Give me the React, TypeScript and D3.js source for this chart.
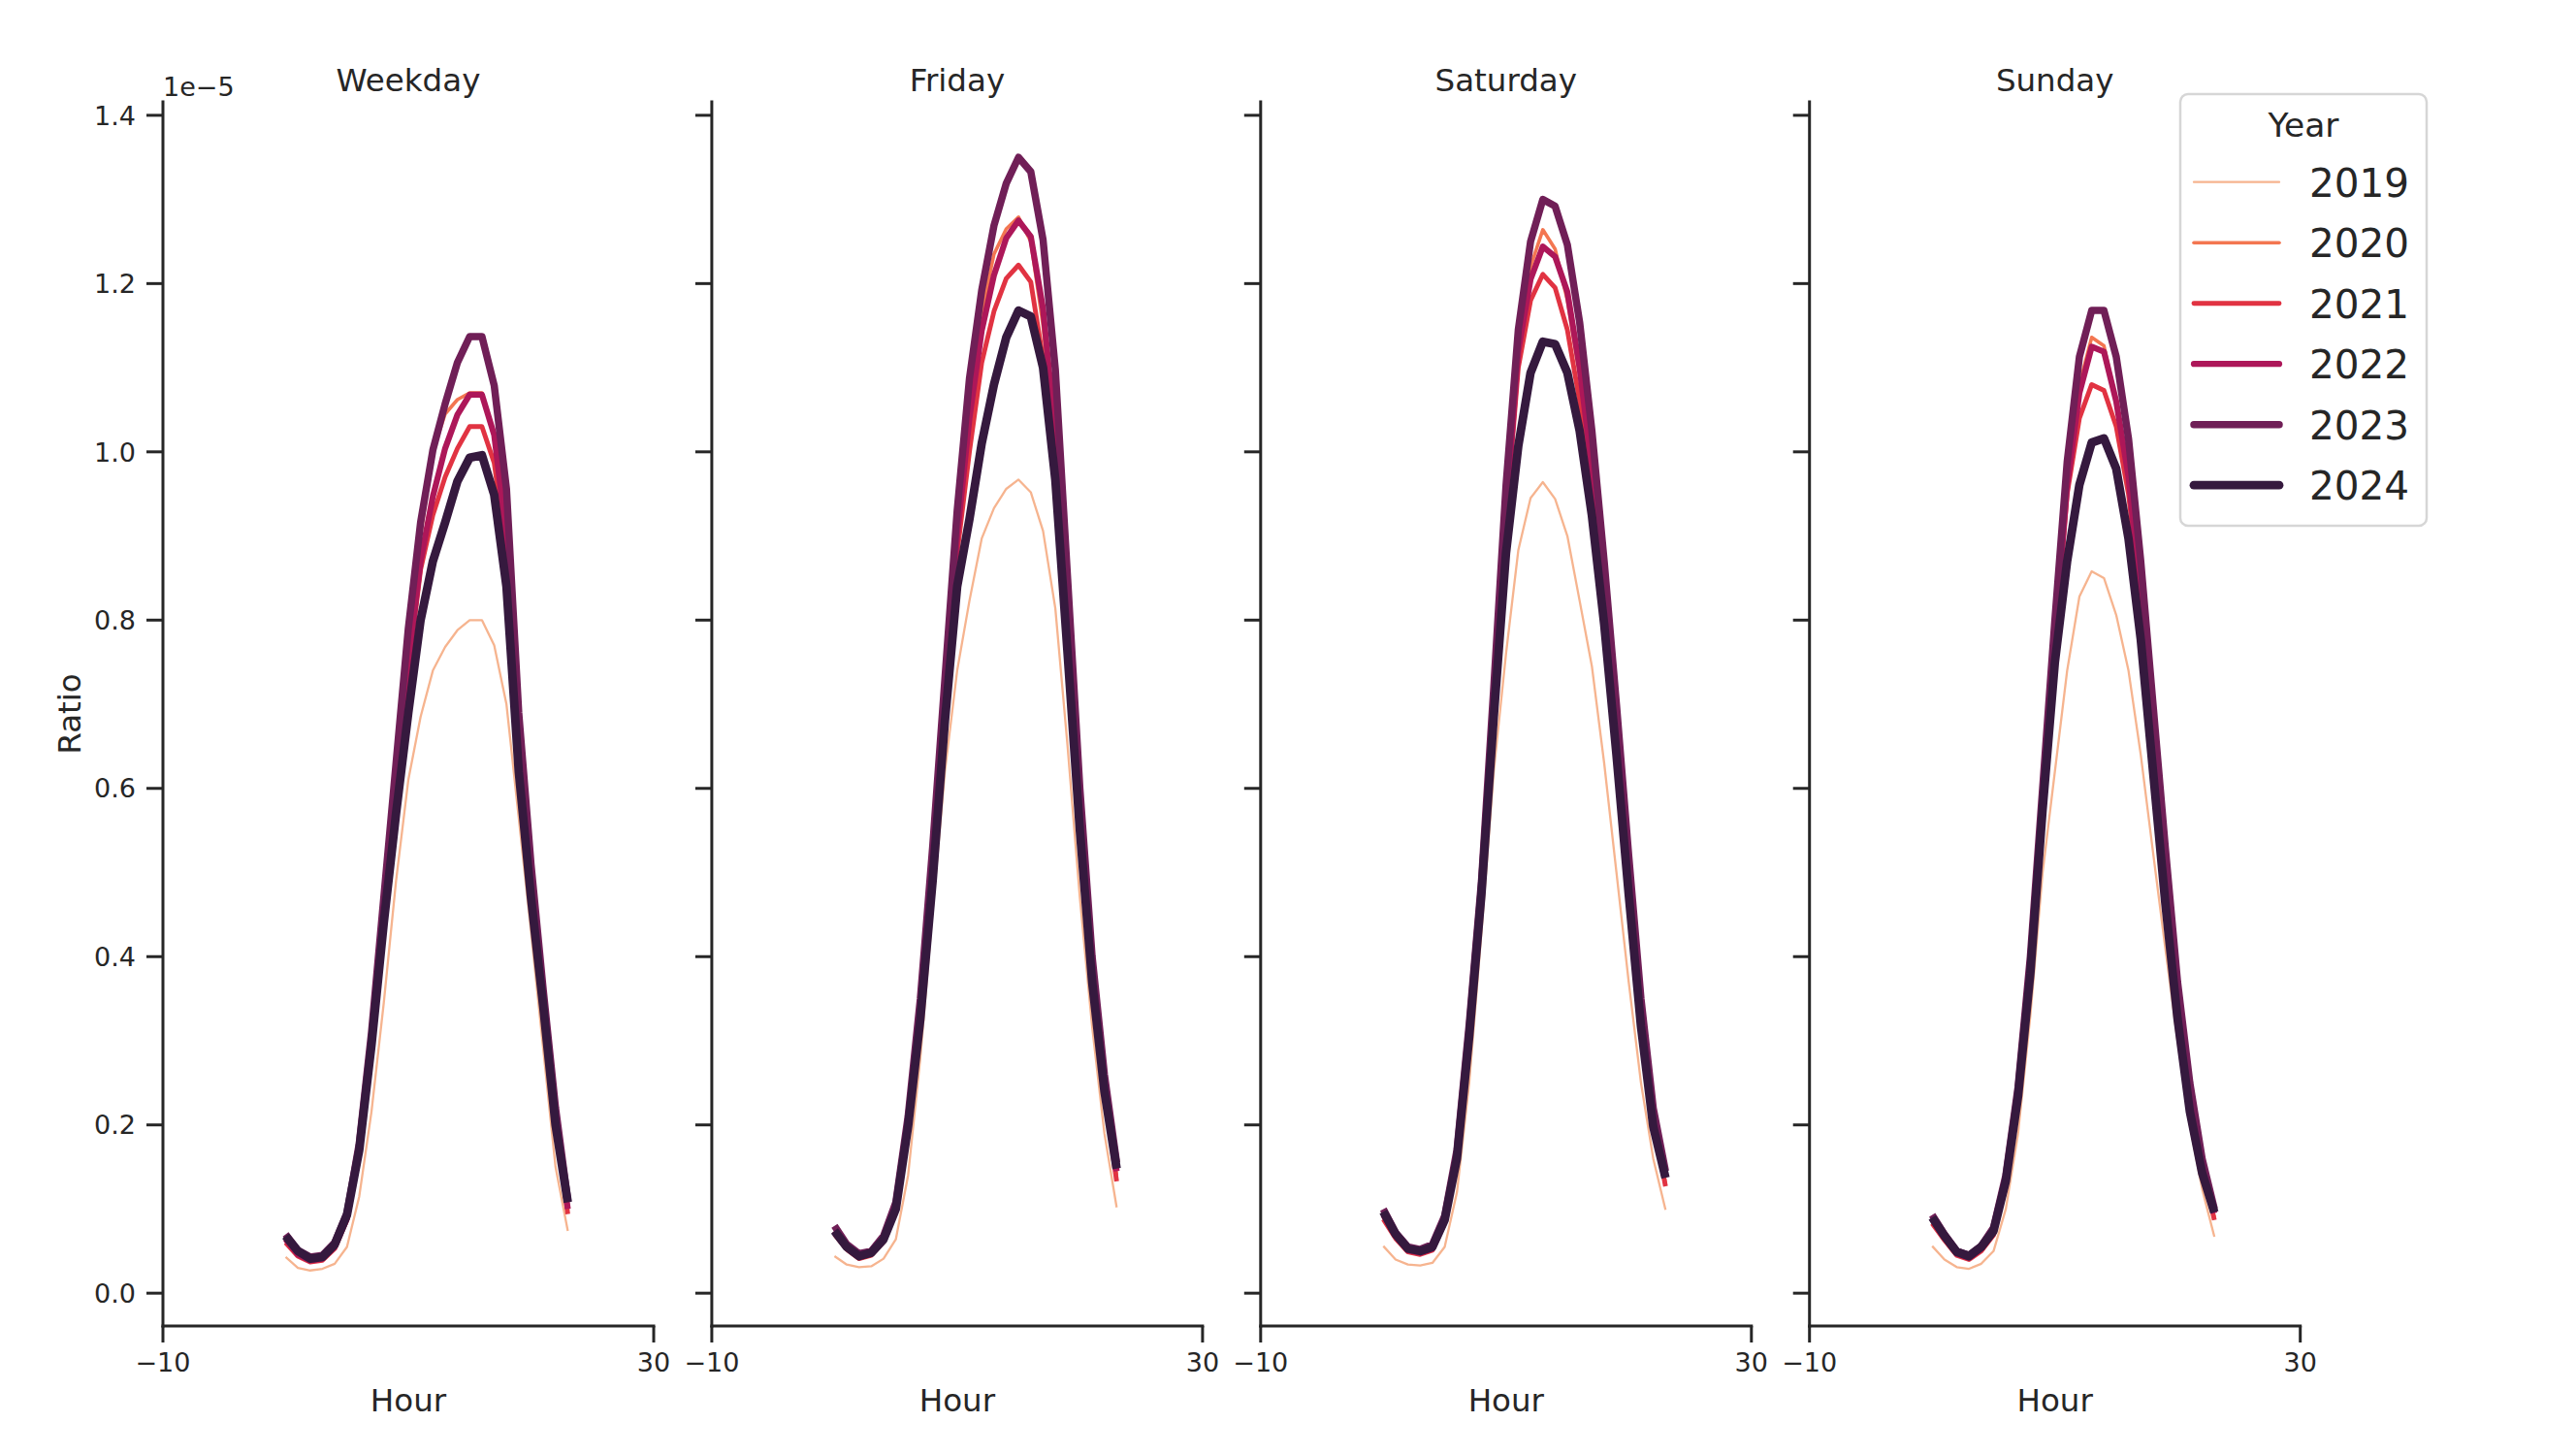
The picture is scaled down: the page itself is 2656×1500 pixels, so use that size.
import React from 'react';
import * as d3 from 'd3';

const HOURS = d3.range(0, 24);
const PANELS = ['Weekday', 'Friday', 'Saturday', 'Sunday'];
const YEARS = ['2019', '2020', '2021', '2022', '2023', '2024'];
const COLORS = ['#f6b48f', '#f37651', '#e13342', '#ad1759', '#701f57', '#35193e'];
const WIDTHS = [2.3, 3.6, 4.9, 6.2, 7.5, 8.8];
const Y_TICKS = [0, 0.2, 0.4, 0.6, 0.8, 1.0, 1.2, 1.4];
const X_TICKS = [-10, 30];

// values in units of 1e-5, one row per year (2019..2024), one value per hour 0..23
const WEEKDAY = [
  [0.043,0.030,0.027,0.029,0.035,0.055,0.115,0.216,0.345,0.490,0.610,0.685,0.740,0.768,0.788,0.800,0.800,0.770,0.700,0.565,0.430,0.290,0.150,0.074],
  [0.062,0.045,0.038,0.040,0.054,0.088,0.165,0.290,0.445,0.600,0.760,0.900,1.000,1.045,1.062,1.070,1.070,1.020,0.900,0.670,0.490,0.350,0.210,0.100],
  [0.060,0.044,0.037,0.039,0.053,0.087,0.163,0.288,0.440,0.590,0.740,0.860,0.925,0.970,1.004,1.030,1.030,0.987,0.880,0.660,0.480,0.345,0.205,0.094],
  [0.064,0.046,0.039,0.041,0.055,0.089,0.167,0.292,0.445,0.600,0.750,0.870,0.947,1.004,1.044,1.068,1.068,1.020,0.900,0.670,0.490,0.350,0.210,0.100],
  [0.070,0.051,0.043,0.045,0.060,0.095,0.178,0.310,0.470,0.630,0.790,0.916,1.002,1.057,1.106,1.137,1.137,1.079,0.956,0.690,0.510,0.360,0.220,0.110],
  [0.068,0.050,0.041,0.043,0.058,0.093,0.170,0.295,0.440,0.570,0.690,0.800,0.870,0.916,0.965,0.993,0.996,0.949,0.840,0.620,0.470,0.340,0.200,0.108],
];
const FRIDAY = [
  [0.044,0.034,0.031,0.032,0.041,0.064,0.140,0.280,0.455,0.620,0.740,0.823,0.897,0.933,0.956,0.967,0.952,0.906,0.814,0.650,0.470,0.317,0.190,0.102],
  [0.072,0.053,0.042,0.046,0.062,0.098,0.195,0.330,0.510,0.710,0.900,1.060,1.165,1.235,1.265,1.279,1.250,1.150,1.000,0.790,0.570,0.380,0.240,0.140],
  [0.070,0.052,0.041,0.045,0.061,0.097,0.193,0.325,0.505,0.700,0.880,1.000,1.106,1.167,1.206,1.222,1.202,1.110,0.990,0.780,0.565,0.375,0.235,0.133],
  [0.074,0.055,0.044,0.047,0.064,0.100,0.198,0.335,0.515,0.715,0.900,1.040,1.144,1.210,1.254,1.275,1.256,1.170,1.020,0.800,0.580,0.390,0.250,0.145],
  [0.080,0.058,0.047,0.050,0.068,0.108,0.210,0.350,0.530,0.730,0.930,1.087,1.192,1.269,1.319,1.350,1.333,1.252,1.098,0.850,0.600,0.400,0.260,0.155],
  [0.074,0.055,0.044,0.048,0.064,0.100,0.198,0.326,0.490,0.680,0.840,0.920,1.010,1.080,1.136,1.168,1.161,1.100,0.967,0.760,0.550,0.370,0.240,0.148],
];
const SATURDAY = [
  [0.056,0.040,0.034,0.033,0.036,0.055,0.120,0.250,0.430,0.620,0.760,0.883,0.945,0.964,0.944,0.900,0.823,0.745,0.630,0.500,0.370,0.250,0.160,0.099],
  [0.090,0.066,0.050,0.047,0.052,0.084,0.155,0.295,0.470,0.690,0.930,1.120,1.220,1.264,1.241,1.180,1.090,0.970,0.830,0.670,0.500,0.330,0.205,0.130],
  [0.088,0.065,0.049,0.046,0.051,0.083,0.153,0.292,0.465,0.685,0.920,1.100,1.180,1.211,1.195,1.145,1.060,0.960,0.820,0.670,0.500,0.330,0.205,0.127],
  [0.093,0.068,0.051,0.048,0.053,0.086,0.158,0.298,0.475,0.695,0.930,1.120,1.205,1.244,1.232,1.190,1.100,0.980,0.840,0.680,0.510,0.340,0.210,0.140],
  [0.100,0.072,0.055,0.052,0.058,0.092,0.170,0.320,0.490,0.720,0.960,1.145,1.250,1.300,1.292,1.246,1.154,1.025,0.870,0.700,0.520,0.350,0.220,0.145],
  [0.097,0.070,0.053,0.050,0.055,0.087,0.160,0.305,0.475,0.685,0.880,1.007,1.094,1.131,1.128,1.094,1.025,0.924,0.795,0.640,0.474,0.317,0.198,0.137],
];
const SUNDAY = [
  [0.056,0.040,0.031,0.029,0.035,0.050,0.100,0.190,0.330,0.500,0.620,0.740,0.828,0.858,0.850,0.806,0.740,0.640,0.524,0.410,0.300,0.200,0.124,0.067],
  [0.085,0.064,0.046,0.041,0.051,0.070,0.128,0.228,0.375,0.580,0.780,0.960,1.080,1.136,1.126,1.060,0.960,0.820,0.660,0.500,0.355,0.235,0.150,0.090],
  [0.083,0.063,0.045,0.040,0.050,0.069,0.126,0.225,0.370,0.575,0.770,0.950,1.040,1.080,1.073,1.030,0.950,0.820,0.660,0.500,0.355,0.235,0.150,0.087],
  [0.088,0.066,0.047,0.042,0.053,0.072,0.130,0.232,0.380,0.585,0.780,0.960,1.070,1.125,1.119,1.060,0.970,0.830,0.670,0.510,0.360,0.240,0.150,0.095],
  [0.093,0.070,0.050,0.045,0.056,0.078,0.140,0.245,0.400,0.600,0.800,0.988,1.113,1.168,1.168,1.113,1.016,0.870,0.700,0.530,0.370,0.250,0.160,0.100],
  [0.090,0.068,0.049,0.044,0.055,0.074,0.133,0.234,0.380,0.575,0.750,0.870,0.961,1.011,1.016,0.980,0.897,0.777,0.620,0.464,0.326,0.216,0.143,0.096],
];
const PANEL_DATA = [WEEKDAY, FRIDAY, SATURDAY, SUNDAY];

const W = 2656;
const H = 1500;
const TEXT = '#262626';
const FONT = "'DejaVu Sans', sans-serif";
const LEFT0 = 168;
const STEP = 565.9;
const PW = 506;
const TOP = 105;
const BOTTOM = 1367;
const TICK = 17;

export default function App() {
  const y = d3.scaleLinear().domain([-0.039, 1.416]).range([BOTTOM, TOP]);
  const fmt = d3.format('.1f');
  const xfmt = (v: number) => (v < 0 ? '\u2212' + Math.abs(v) : String(v));

  return (
    <svg width={W} height={H} style={{ position: 'absolute', left: 0, top: 0, background: '#fff' }}
      fontFamily={FONT}>
      <rect x={0} y={0} width={W} height={H} fill="#fff" />
      {PANELS.map((name, pi) => {
        const left = LEFT0 + pi * STEP;
        const x = d3.scaleLinear().domain([-10, 30]).range([left, left + PW]);
        const line = d3.line<number>().x((_, i) => x(HOURS[i])).y((d) => y(d));
        const series = PANEL_DATA[pi];
        return (
          <g key={name}>
            <text x={left + PW / 2} y={93.5} fontSize={32.5} fill={TEXT} textAnchor="middle">{name}</text>
            {series.map((vals, yi) => (
              <path key={yi} d={line(vals) || ''} fill="none" stroke={COLORS[yi]}
                strokeWidth={WIDTHS[yi]} strokeLinejoin="round" strokeLinecap="butt" />
            ))}
            <line x1={left} x2={left} y1={TOP} y2={BOTTOM} stroke={TEXT} strokeWidth={3} strokeLinecap="square" />
            {Y_TICKS.map((t) => (
              <g key={t}>
                <line x1={left - TICK} x2={left} y1={y(t)} y2={y(t)} stroke={TEXT} strokeWidth={3} />
                {pi === 0 && (
                  <text x={left - TICK - 11} y={y(t)} dy="0.36em" fontSize={27} fill={TEXT} textAnchor="end">{fmt(t)}</text>
                )}
              </g>
            ))}
            <line x1={left} x2={left + PW} y1={BOTTOM} y2={BOTTOM} stroke={TEXT} strokeWidth={3} strokeLinecap="square" />
            {X_TICKS.map((t) => (
              <g key={t}>
                <line x1={x(t)} x2={x(t)} y1={BOTTOM} y2={BOTTOM + TICK} stroke={TEXT} strokeWidth={3} />
                <text x={x(t)} y={1414} fontSize={27} fill={TEXT} textAnchor="middle">{xfmt(t)}</text>
              </g>
            ))}
            <text x={left + PW / 2} y={1455} fontSize={32.5} fill={TEXT} textAnchor="middle">Hour</text>
          </g>
        );
      })}
      <text x={LEFT0} y={99} fontSize={27} fill={TEXT}>1e{'\u2212'}5</text>
      <text transform={`translate(83,${(TOP + BOTTOM) / 2}) rotate(-90)`} fontSize={32.5} fill={TEXT} textAnchor="middle">Ratio</text>
      <g>
        <rect x={2248} y={97} width={254} height={445} rx={8} ry={8} fill="#fff" fillOpacity={0.8}
          stroke="#d6d6d6" strokeWidth={2.5} />
        <text x={2375} y={141} fontSize={34.5} fill={TEXT} textAnchor="middle">Year</text>
        {YEARS.map((yr, i) => {
          const base = 202.7 + i * 62.5;
          return (
            <g key={yr}>
              <line x1={2262} x2={2350} y1={base - 15} y2={base - 15} stroke={COLORS[i]}
                strokeWidth={WIDTHS[i]} strokeLinecap="round" />
              <text x={2381} y={base} fontSize={40.5} fill={TEXT}>{yr}</text>
            </g>
          );
        })}
      </g>
    </svg>
  );
}
